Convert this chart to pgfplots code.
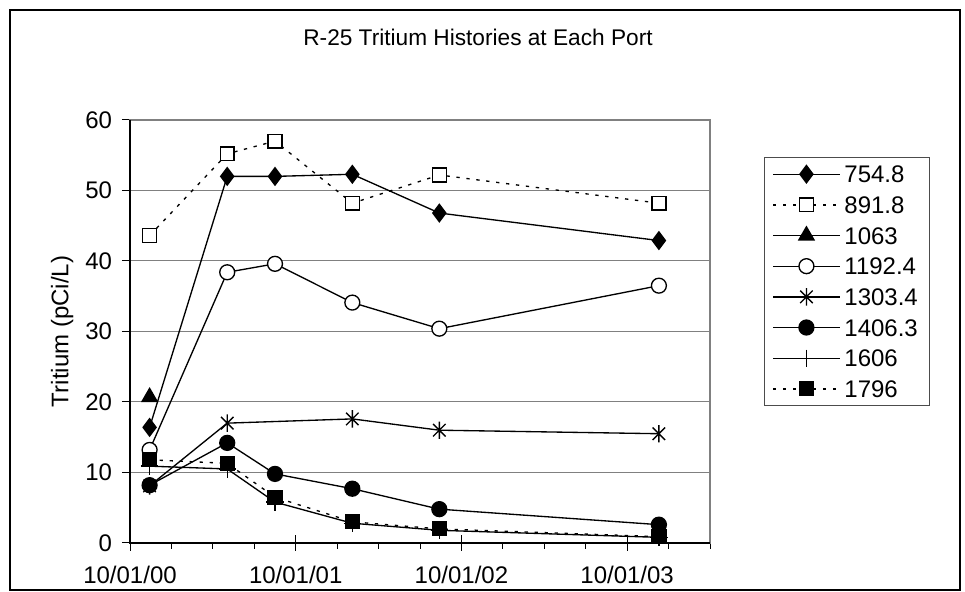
\documentclass[border=0pt]{standalone}
\usepackage{fontspec}
\setmainfont{Liberation Sans}
\usepackage{pgfplots}
\pgfplotsset{compat=1.18}

% Excel style star: a vertical bar and an X
\pgfdeclareplotmark{xstar}{%
  \pgfpathmoveto{\pgfqpoint{0pt}{\pgfplotmarksize}}%
  \pgfpathlineto{\pgfqpoint{0pt}{-\pgfplotmarksize}}%
  \pgfpathmoveto{\pgfqpoint{-0.72\pgfplotmarksize}{-0.72\pgfplotmarksize}}%
  \pgfpathlineto{\pgfqpoint{0.72\pgfplotmarksize}{0.72\pgfplotmarksize}}%
  \pgfpathmoveto{\pgfqpoint{-0.72\pgfplotmarksize}{0.72\pgfplotmarksize}}%
  \pgfpathlineto{\pgfqpoint{0.72\pgfplotmarksize}{-0.72\pgfplotmarksize}}%
  \pgfusepathqstroke}

% x is months after 10/01/00
\begin{document}
\begin{tikzpicture}[font=\fontsize{18}{21}\selectfont]
\path (0,0) rectangle (723.75pt,444pt);
\draw[black, line width=0.9pt] (7.5pt,1.5pt) rectangle (720pt,436.5pt);
\node[font=\fontsize{17}{20}\selectfont] at (358.5pt,416pt) {R-25 Tritium Histories at Each Port};
\begin{axis}[
    at={(97.5pt,36.75pt)}, anchor=south west,
    scale only axis, width=435pt, height=317.25pt,
    xmin=0, xmax=42, ymin=0, ymax=60,
    xtick={0,12,24,36},
    xticklabels={10/01/00,10/01/01,10/01/02,10/01/03},
    minor xtick={3,6,9,15,18,21,27,30,33,39,42},
    ytick={0,10,...,60},
    extra x ticks={12,24,36},
    extra x tick labels={},
    extra x tick style={tick align=inside},
    tick align=outside,
    major tick length=6pt, minor tick length=4.5pt,
    tick style={black, line width=0.75pt},
    xtick pos=bottom, ytick pos=left,
    ymajorgrids, grid style={gray, line width=0.75pt},
    axis line style={gray, line width=0.9pt},
    /pgf/number format/assume math mode=true,
    xticklabel style={yshift=-8pt},
    yticklabel style={xshift=-4pt},
    ylabel={Tritium (pCi/L)},
    ylabel style={at={(axis description cs:-0.117,0.5)}, anchor=center},
    clip=false,
    every axis plot/.append style={black, line width=1pt},
    legend image code/.code={\draw[mark repeat=2,mark phase=2]
        plot coordinates {(0pt,0pt)(25pt,0pt)(50pt,0pt)};},
    legend cell align=left,
    legend style={at={(1.093,0.9125)}, anchor=north west,
        draw=gray!60!black, line width=0.75pt,
        inner xsep=6pt, inner ysep=6pt, row sep=10pt,
        nodes={inner ysep=0pt, inner xsep=3pt, text height=13pt, text depth=0pt}},
    after end axis/.code={\draw[black, line width=0.9pt]
        (rel axis cs:0,1) -- (rel axis cs:0,0) -- (rel axis cs:1,0);},
]
\addplot[mark=diamond*, mark size=6.5pt] coordinates {
    (1.42,16.4)(7.04,52.0)(10.5,52.0)(16.1,52.3)(22.4,46.8)(38.3,42.9)};
\addplot[dash pattern=on 2.5pt off 5pt, mark=square*, mark size=5.2pt,
    mark options={fill=white, solid}] coordinates {
    (1.42,43.6)(7.04,55.2)(10.5,57.0)(16.1,48.2)(22.4,52.2)(38.3,48.2)};
\addplot[mark=triangle*, mark size=6.5pt] coordinates {(1.42,20.7)};
\addplot[mark=*, mark size=5.6pt, mark options={fill=white}] coordinates {
    (1.42,13.2)(7.04,38.4)(10.5,39.6)(16.1,34.1)(22.4,30.4)(38.3,36.5)};
\addplot[mark=xstar, mark size=6.5pt] coordinates {
    (1.42,8.1)(7.04,17.0)(16.1,17.6)(22.4,16.0)(38.3,15.5)};
\addplot[mark=*, mark size=5.6pt] coordinates {
    (1.42,8.2)(7.04,14.2)(10.5,9.8)(16.1,7.7)(22.4,4.8)(38.3,2.6)};
\addplot[mark=+, mark size=6.5pt] coordinates {
    (1.42,10.9)(7.04,10.5)(10.5,5.8)(16.1,2.8)(22.4,1.8)(38.3,0.8)};
\addplot[dash pattern=on 2.5pt off 5pt, mark=square*, mark size=5.2pt,
    mark options={solid}] coordinates {
    (1.42,11.8)(7.04,11.3)(10.5,6.5)(16.1,3.0)(22.4,2.0)(38.3,0.9)};
\legend{754.8,891.8,1063,1192.4,1303.4,1406.3,1606,1796}
\end{axis}
\end{tikzpicture}
\end{document}
